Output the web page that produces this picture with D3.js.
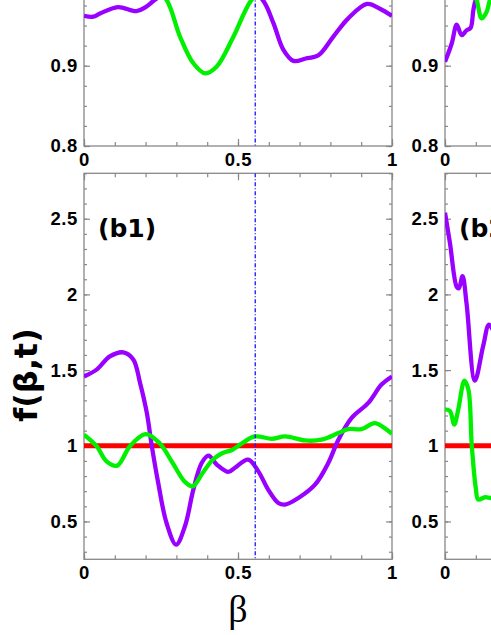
<!DOCTYPE html>
<html>
<head>
<meta charset="utf-8">
<script src="https://cdn.jsdelivr.net/npm/d3@7"></script>
<style>
  body { margin: 0; background: #fff; }
  svg { display: block; }
</style>
</head>
<body>
<svg></svg>
<script>
// tick values
const xMajor = [0, 0.5, 1];
const xMinor = d3.range(0, 1.0001, 0.1);
const xLabelsLeft = [0, 0.5, 1];
const xLabelsRight = [0];
const topYMajor = [0.8, 0.9, 1.0, 1.1, 1.2];
const topYLabels = [0.8, 0.9];
const topYMinor = d3.range(0.8, 1.28, 0.025);
const botYMajor = [0.5, 1, 1.5, 2, 2.5];
const botYLabels = [0.5, 1, 1.5, 2, 2.5];
const botYMinor = d3.range(0.3, 2.8001, 0.1);

// upper row, left panel
const aLPurpleBeta = [0, 0.03, 0.052, 0.11, 0.17, 0.2, 0.23, 0.3, 0.42, 0.52, 0.58, 0.615, 0.647, 0.68, 0.72, 0.761, 0.809, 0.858, 0.919, 0.961, 1];
const aLPurple     = [0.962, 0.961, 0.965, 0.973, 0.968, 0.973, 0.982, 1.0, 1.01, 1.0, 0.982, 0.953, 0.92, 0.906, 0.909, 0.913, 0.936, 0.959, 0.977, 0.971, 0.962];
const aLGreenBeta  = [0, 0.12, 0.22, 0.268, 0.312, 0.355, 0.393, 0.431, 0.485, 0.544, 0.6, 0.8, 1];
const aLGreen      = [1.01, 1.02, 1.0, 0.982, 0.936, 0.903, 0.8905, 0.899, 0.936, 0.982, 1.0, 1.01, 1.0];

// upper row, right panel
const aRPurpleBeta = [0, 0.022, 0.038, 0.054, 0.07, 0.083, 0.092, 0.1, 0.13, 0.2];
const aRPurple     = [0.905, 0.928, 0.951, 0.938, 0.944, 0.947, 0.969, 0.982, 1.0, 1.01];
const aRGreenBeta  = [0, 0.06, 0.09, 0.103, 0.119, 0.135, 0.146, 0.17];
const aRGreen      = [1.01, 1.0, 0.995, 0.982, 0.959, 0.967, 0.982, 1.0];

// (b1)
const b1PurpleBeta = [0, 0.041, 0.084, 0.128, 0.16, 0.182, 0.204, 0.22, 0.241, 0.268, 0.299, 0.328, 0.355, 0.382, 0.404, 0.431, 0.469, 0.49, 0.533, 0.566, 0.598, 0.631, 0.653, 0.696, 0.75, 0.793, 0.826, 0.869, 0.923, 0.966, 1];
const b1Purple     = [1.458, 1.503, 1.59, 1.617, 1.57, 1.415, 1.217, 1.0, 0.754, 0.49, 0.347, 0.47, 0.71, 0.886, 0.935, 0.876, 0.827, 0.855, 0.908, 0.831, 0.71, 0.622, 0.611, 0.655, 0.743, 0.886, 1.04, 1.184, 1.283, 1.404, 1.458];
const b1GreenBeta  = [0, 0.041, 0.073, 0.108, 0.149, 0.2, 0.245, 0.288, 0.326, 0.353, 0.385, 0.418, 0.45, 0.482, 0.514, 0.555, 0.61, 0.653, 0.717, 0.771, 0.826, 0.858, 0.901, 0.944, 0.976, 1];
const b1Green      = [1.073, 0.997, 0.897, 0.869, 0.997, 1.077, 1.018, 0.886, 0.765, 0.732, 0.82, 0.908, 0.952, 0.974, 1.018, 1.062, 1.046, 1.062, 1.035, 1.04, 1.084, 1.11, 1.11, 1.15, 1.117, 1.079];

// (b2)
const b2PurpleBeta = [0, 0.016, 0.038, 0.045, 0.057, 0.07, 0.097, 0.124, 0.143, 0.165];
const b2Purple     = [2.54, 2.34, 2.05, 2.04, 2.12, 1.94, 1.43, 1.66, 1.8, 1.72];
const b2GreenBeta  = [0, 0.016, 0.03, 0.043, 0.063, 0.076, 0.087, 0.1, 0.108, 0.13, 0.149, 0.17];
const b2Green      = [1.24, 1.23, 1.14, 1.24, 1.43, 1.37, 1.0, 0.72, 0.645, 0.66, 0.655, 0.66];

const redBeta = [0, 1];
const redLevel = [1, 1];
const markBeta = 0.556;

const width = 491;
const height = 635;

const svg = d3.select("svg")
              .attr("width", width)
              .attr("height", height);

const cols = [
  {range: [84, 392], labels: xLabelsLeft},
  {range: [445, 753], labels: xLabelsRight}
];
const rows = {
  top: {range: [146, -239.4], domain: [0.8, 1.28], major: topYMajor, labels: topYLabels, minor: topYMinor, fmt: d3.format(".1f")},
  bot: {range: [559.3, 173.3], domain: [0.25, 2.8], major: botYMajor, labels: botYLabels, minor: botYMinor, fmt: d3.format("~g")}
};

const purple = "#9900ff";
const green = "#00f000";
const red = "#ff0000";

const panels = [
  {id: "aL", col: 0, row: "top", curves: [[aLPurpleBeta, aLPurple, purple], [aLGreenBeta, aLGreen, green]], mark: true},
  {id: "aR", col: 1, row: "top", curves: [[aRPurpleBeta, aRPurple, purple], [aRGreenBeta, aRGreen, green]], mark: false},
  {id: "b1", col: 0, row: "bot", curves: [[redBeta, redLevel, red], [b1PurpleBeta, b1Purple, purple], [b1GreenBeta, b1Green, green]], mark: true, label: "(b1)"},
  {id: "b2", col: 1, row: "bot", curves: [[redBeta, redLevel, red], [b2PurpleBeta, b2Purple, purple], [b2GreenBeta, b2Green, green]], mark: false, label: "(b2)"}
];

function styleAxis(g) {
  g.select(".domain").remove();
  g.selectAll(".tick line").attr("stroke", "#888").attr("stroke-width", 1.2);
  g.selectAll("text")
   .attr("font-family", "Liberation Sans, Arial, sans-serif")
   .attr("font-size", 18.5)
   .attr("font-weight", "bold")
   .attr("letter-spacing", 0.6)
   .attr("fill", "#000");
}

panels.forEach(p => {
  const r = rows[p.row];
  const c = cols[p.col];
  const x = d3.scaleLinear().domain([0, 1]).range(c.range);
  const y = d3.scaleLinear().domain(r.domain).range(r.range);
  const [x0, x1] = c.range;
  const [yb, yt] = r.range;

  const G = svg.append("g").attr("id", "panel-" + p.id);

  G.append("clipPath")
   .attr("id", "clip-" + p.id)
   .append("rect")
   .attr("x", x0).attr("y", yt)
   .attr("width", x1 - x0).attr("height", yb - yt);

  // ticks on all four sides, pointing inward
  G.append("g").attr("transform", "translate(0," + yb + ")")
   .call(d3.axisBottom(x).tickValues(xMinor).tickSize(-4).tickFormat("")).call(styleAxis);
  G.append("g").attr("transform", "translate(0," + yb + ")")
   .call(d3.axisBottom(x).tickValues(xMajor).tickSize(-7).tickFormat("")).call(styleAxis);
  G.append("g").attr("transform", "translate(0," + yb + ")")
   .call(d3.axisBottom(x).tickValues(c.labels).tickSize(0).tickPadding(7).tickFormat(d3.format("~g"))).call(styleAxis);
  G.append("g").attr("transform", "translate(0," + yt + ")")
   .call(d3.axisTop(x).tickValues(xMinor).tickSize(-4).tickFormat("")).call(styleAxis);
  G.append("g").attr("transform", "translate(0," + yt + ")")
   .call(d3.axisTop(x).tickValues(xMajor).tickSize(-7).tickFormat("")).call(styleAxis);

  G.append("g").attr("transform", "translate(" + x0 + ",0)")
   .call(d3.axisLeft(y).tickValues(r.minor).tickSize(-3).tickFormat("")).call(styleAxis);
  G.append("g").attr("transform", "translate(" + x0 + ",0)")
   .call(d3.axisLeft(y).tickValues(r.major).tickSize(-6).tickFormat("")).call(styleAxis);
  G.append("g").attr("transform", "translate(" + x0 + ",0)")
   .call(d3.axisLeft(y).tickValues(r.labels).tickSize(0).tickPadding(6).tickFormat(r.fmt)).call(styleAxis);
  G.append("g").attr("transform", "translate(" + x1 + ",0)")
   .call(d3.axisRight(y).tickValues(r.minor).tickSize(-3).tickFormat("")).call(styleAxis);
  G.append("g").attr("transform", "translate(" + x1 + ",0)")
   .call(d3.axisRight(y).tickValues(r.major).tickSize(-6).tickFormat("")).call(styleAxis);

  G.append("rect")
   .attr("x", x0).attr("y", yt)
   .attr("width", x1 - x0).attr("height", yb - yt)
   .attr("fill", "none")
   .attr("stroke", "#888")
   .attr("stroke-width", 1.3);

  const plot = G.append("g").attr("clip-path", "url(#clip-" + p.id + ")");

  const line = d3.line()
                 .x(d => x(d[0]))
                 .y(d => y(d[1]))
                 .curve(d3.curveCatmullRom.alpha(0.5));

  p.curves.forEach(cv => {
    plot.append("path")
        .datum(d3.zip(cv[0], cv[1]))
        .attr("d", line)
        .attr("fill", "none")
        .attr("stroke", cv[2])
        .attr("stroke-width", cv[2] === red ? 4.8 : 4.3)
        .attr("stroke-linejoin", "round");
  });

  if (p.mark) {
    plot.append("line")
        .attr("x1", x(markBeta)).attr("x2", x(markBeta))
        .attr("y1", yt).attr("y2", yb)
        .attr("stroke", "#2222ff")
        .attr("stroke-width", 1.4)
        .attr("stroke-dasharray", "4,2,1,2");
  }

  if (p.label) {
    G.append("text")
     .attr("x", x0 + 14)
     .attr("y", 237)
     .attr("font-family", "DejaVu Sans")
     .attr("font-weight", "bold")
     .attr("font-size", 25)
     .text(p.label);
  }
});

svg.append("text")
   .attr("transform", "translate(37,375) rotate(-90)")
   .attr("text-anchor", "middle")
   .attr("font-family", "DejaVu Sans")
   .attr("font-weight", "bold")
   .attr("font-size", 32)
   .text("f(β,t)");

svg.append("text")
   .attr("x", 238)
   .attr("y", 622)
   .attr("text-anchor", "middle")
   .attr("font-family", "Liberation Serif")
   .attr("font-size", 38)
   .text("β");
</script>
</body>
</html>
